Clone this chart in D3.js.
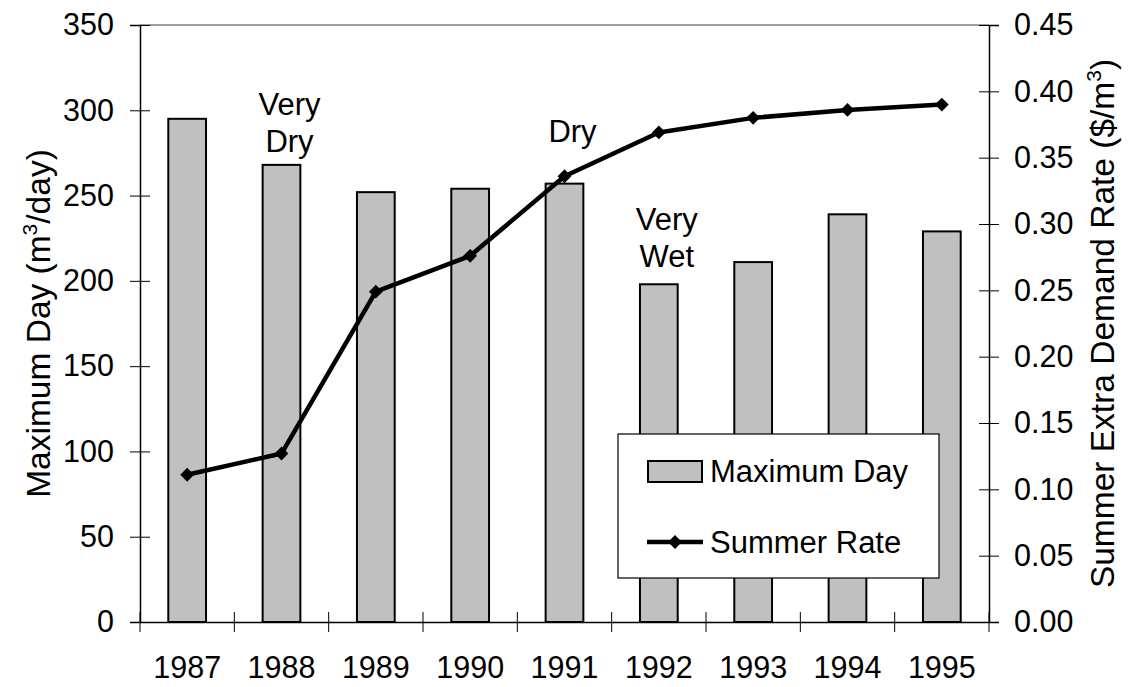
<!DOCTYPE html>
<html lang="en">
<head>
    <meta charset="UTF-8">
    <script src="https://cdnjs.cloudflare.com/ajax/libs/d3/7.8.5/d3.min.js"></script>
    <title>Maximum Day and Summer Rate</title>
    <style>
        body { margin: 0; background: #fff; }
        svg { display: block; font-family: "Liberation Sans", Arial, sans-serif; }
        text { fill: #000; }
    </style>
</head>
<body>
    <svg width="1131" height="687"></svg>
    <script>
        // data
        var years = ["1987", "1988", "1989", "1990", "1991", "1992", "1993", "1994", "1995"];
        var maxDay = [295, 268, 252, 254, 257, 198, 211, 239, 229];
        var summerRate = [0.111, 0.127, 0.249, 0.276, 0.336, 0.369, 0.380, 0.386, 0.390];
        var leftTicks = [0, 50, 100, 150, 200, 250, 300, 350];
        var rightTicks = [0, 0.05, 0.10, 0.15, 0.20, 0.25, 0.30, 0.35, 0.40, 0.45];
        var notes = [
            { year: "1988", lines: ["Very", "Dry"], base: 115 },
            { year: "1991", lines: ["Dry"], base: 142 },
            { year: "1992", lines: ["Very", "Wet"], base: 230 }
        ];

        var pLeft = 140, pRight = 989, pTop = 25, pBottom = 622;
        var fs = 30.5, fsText = 31, fsTitle = 33.5;

        var svg = d3.select("svg");

        var x = d3.scaleBand().domain(years).range([pLeft, pRight]);
        var y = d3.scaleLinear().domain([0, 350]).range([pBottom, pTop]);
        var y2 = d3.scaleLinear().domain([0, 0.45]).range([pBottom, pTop]);

        // grey top border of plot area
        svg.append("line")
            .attr("x1", pLeft).attr("x2", pRight)
            .attr("y1", pTop).attr("y2", pTop)
            .attr("stroke", "#808080").attr("stroke-width", 1.5);

        // bars
        var bw = x.bandwidth() * 0.4;
        svg.selectAll("rect.bar")
            .data(years)
            .enter()
            .append("rect")
            .attr("class", "bar")
            .attr("x", (d) => x(d) + x.bandwidth() / 2 - bw / 2)
            .attr("y", (d, i) => y(maxDay[i]))
            .attr("width", bw)
            .attr("height", (d, i) => pBottom - y(maxDay[i]))
            .attr("fill", "#c0c0c0")
            .attr("stroke", "#000")
            .attr("stroke-width", 2);

        // left axis
        var gl = svg.append("g")
            .attr("transform", "translate(" + pLeft + ",0)")
            .call(d3.axisLeft(y).tickValues(leftTicks).tickSizeOuter(0).tickSize(10));
        gl.selectAll(".tick line").attr("x1", 10).attr("x2", -10);
        gl.selectAll(".tick text").attr("x", -26).style("font-size", fs + "px").style("font-family", "inherit");

        // right axis
        var gr = svg.append("g")
            .attr("transform", "translate(" + pRight + ",0)")
            .call(d3.axisRight(y2).tickValues(rightTicks).tickFormat(d3.format(".2f")).tickSizeOuter(0).tickSize(10));
        gr.selectAll(".tick line").attr("x1", -10).attr("x2", 10);
        gr.selectAll(".tick text").attr("x", 25).style("font-size", fs + "px").style("font-family", "inherit");

        // bottom axis, ticks at category boundaries
        var gb = svg.append("g")
            .attr("transform", "translate(0," + pBottom + ")")
            .call(d3.axisBottom(x).tickSize(0).tickSizeOuter(0));
        gb.selectAll(".tick text").attr("y", 56).attr("dy", 0)
            .style("font-size", fs + "px").style("font-family", "inherit");
        gb.selectAll("line.bound")
            .data(years.concat(["end"]))
            .enter()
            .append("line")
            .attr("class", "bound")
            .attr("x1", (d, i) => i < years.length ? x(d) : x(years[years.length - 1]) + x.bandwidth())
            .attr("x2", (d, i) => i < years.length ? x(d) : x(years[years.length - 1]) + x.bandwidth())
            .attr("y1", -10).attr("y2", 10)
            .attr("stroke", "#000");
        svg.selectAll(".domain").attr("stroke", "#000").attr("stroke-width", 1.5);

        // summer rate line
        var line = d3.line()
            .x((d, i) => x(years[i]) + x.bandwidth() / 2)
            .y((d) => y2(d));
        svg.append("path")
            .datum(summerRate)
            .attr("d", line)
            .attr("fill", "none")
            .attr("stroke", "#000")
            .attr("stroke-width", 4.5)
            .attr("stroke-linejoin", "round");

        var diamond = d3.symbol().type(d3.symbolSquare).size(95);
        svg.selectAll("path.mark")
            .data(summerRate)
            .enter()
            .append("path")
            .attr("class", "mark")
            .attr("d", diamond)
            .attr("transform", (d, i) => "translate(" + (x(years[i]) + x.bandwidth() / 2) + "," + y2(d) + ") rotate(45)")
            .attr("fill", "#000");

        // annotations
        notes.forEach(n => {
            var cx = x(n.year) + x.bandwidth() / 2 + 8;
            var t = svg.append("text")
                .attr("x", cx)
                .attr("y", n.base)
                .attr("text-anchor", "middle")
                .style("font-size", fsText + "px");
            n.lines.forEach((s, i) => {
                t.append("tspan")
                    .attr("x", cx)
                    .attr("dy", i == 0 ? 0 : 37)
                    .text(s);
            });
        });

        // axis titles
        var tl = svg.append("text")
            .attr("transform", "translate(50," + (pTop + pBottom) / 2 + ") rotate(-90)")
            .attr("text-anchor", "middle")
            .style("font-size", fsTitle + "px");
        tl.append("tspan").text("Maximum Day (m");
        tl.append("tspan").attr("dy", -13).style("font-size", "21px").text("3");
        tl.append("tspan").attr("dy", 13).text("/day)");

        var tr = svg.append("text")
            .attr("transform", "translate(1114," + (pTop + pBottom) / 2 + ") rotate(-90)")
            .attr("text-anchor", "middle")
            .style("font-size", fsTitle + "px");
        tr.append("tspan").text("Summer Extra Demand Rate ($/m");
        tr.append("tspan").attr("dy", -13).style("font-size", "21px").text("3");
        tr.append("tspan").attr("dy", 13).text(")");

        // legend
        var lg = svg.append("g");
        lg.append("rect")
            .attr("x", 618).attr("y", 434)
            .attr("width", 321).attr("height", 144)
            .attr("fill", "#fff").attr("stroke", "#000").attr("stroke-width", 1.2);
        lg.append("rect")
            .attr("x", 648).attr("y", 461)
            .attr("width", 54).attr("height", 21)
            .attr("fill", "#c0c0c0").attr("stroke", "#000").attr("stroke-width", 2);
        lg.append("text").attr("x", 710).attr("y", 482).style("font-size", fsText + "px").text("Maximum Day");
        lg.append("line")
            .attr("x1", 647).attr("x2", 703)
            .attr("y1", 542).attr("y2", 542)
            .attr("stroke", "#000").attr("stroke-width", 4.5);
        lg.append("path")
            .attr("d", diamond)
            .attr("transform", "translate(675,542) rotate(45)")
            .attr("fill", "#000");
        lg.append("text").attr("x", 710).attr("y", 553).style("font-size", fsText + "px").text("Summer Rate");
    </script>
</body>
</html>
